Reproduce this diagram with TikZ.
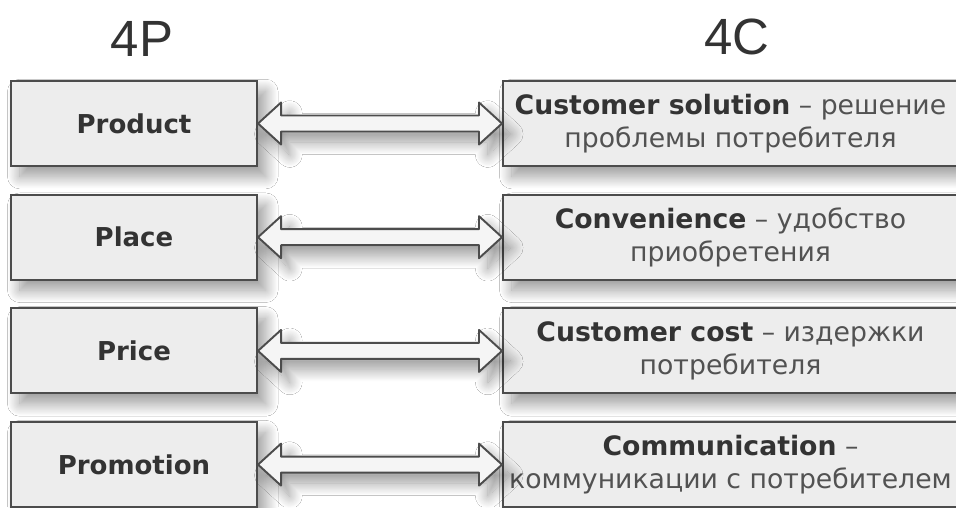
\documentclass[tikz,border=0pt]{standalone}
\usepackage{fontspec}
\setmainfont{DejaVu Sans}
\newfontfamily\headfont{Liberation Sans}
\usetikzlibrary{calc,shadows.blur}
\definecolor{boxgray}{gray}{0.93}
\definecolor{arrowgray}{gray}{0.96}
\definecolor{linegray}{gray}{0.3}
\definecolor{textgray}{gray}{0.32}
\definecolor{keygray}{gray}{0.2}
\newcommand{\keyword}[1]{{\color{keygray}\bfseries #1}}
% hollow two-way arrow from one box to the other
\newcommand{\twoway}[2]{%
  \draw[arrowline] (#1.east) -- ($(#1.east)+(23,-21)$) -- ($(#1.east)+(23,-8)$)
    -- ($(#2.west)+(-23,-8)$) -- ($(#2.west)+(-23,-21)$) -- (#2.west)
    -- ($(#2.west)+(-23,21)$) -- ($(#2.west)+(-23,8)$)
    -- ($(#1.east)+(23,8)$) -- ($(#1.east)+(23,21)$) -- cycle;}
\tikzset{
  softshadow/.style={blur shadow={shadow xshift=5pt, shadow yshift=-6pt,
    shadow blur radius=7pt, shadow blur steps=24, shadow opacity=40}},
  pbox/.style={draw=linegray, line width=1.2pt, fill=boxgray, softshadow,
    minimum width=4.92cm, minimum height=1.70cm, inner sep=0pt,
    font=\fontsize{14.8}{17}\selectfont\bfseries, text=keygray},
  cbox/.style={draw=linegray, line width=1.2pt, fill=boxgray, softshadow,
    minimum width=9.10cm, minimum height=1.70cm, inner sep=0pt, align=center,
    font=\fontsize{15.2}{18.5}\selectfont, text=textgray},
  arrowline/.style={draw=linegray, line width=1.1pt, fill=arrowgray,
    line join=round, softshadow},
  headtext/.style={font=\headfont\fontsize{29}{29}\selectfont, text=keygray}
}
\begin{document}
\begin{tikzpicture}[x=0.02cm,y=-0.02cm]
\useasboundingbox (0,0) rectangle (956,507);
\fill[white] (0,0) rectangle (956,507);
\node[headtext] (h4p) at (142,39) {4P};
\node[headtext] (h4c) at (737,37) {4C};
\foreach \i/\ptext/\ctext in {
  1/Product/{\keyword{Customer solution} – решение\\проблемы потребителя},
  2/Place/{\keyword{Convenience} – удобство\\приобретения},
  3/Price/{\keyword{Customer cost} – издержки\\потребителя},
  4/Promotion/{\keyword{Communication} –\\коммуникации с потребителем}}{
  \node[pbox] (p\i) at (134,{123.5+113.7*(\i-1)}) {\ptext};
  \node[cbox] (c\i) at (730.5,{123.5+113.7*(\i-1)}) {\ctext};
  \twoway{p\i}{c\i}
}
\end{tikzpicture}
\end{document}
